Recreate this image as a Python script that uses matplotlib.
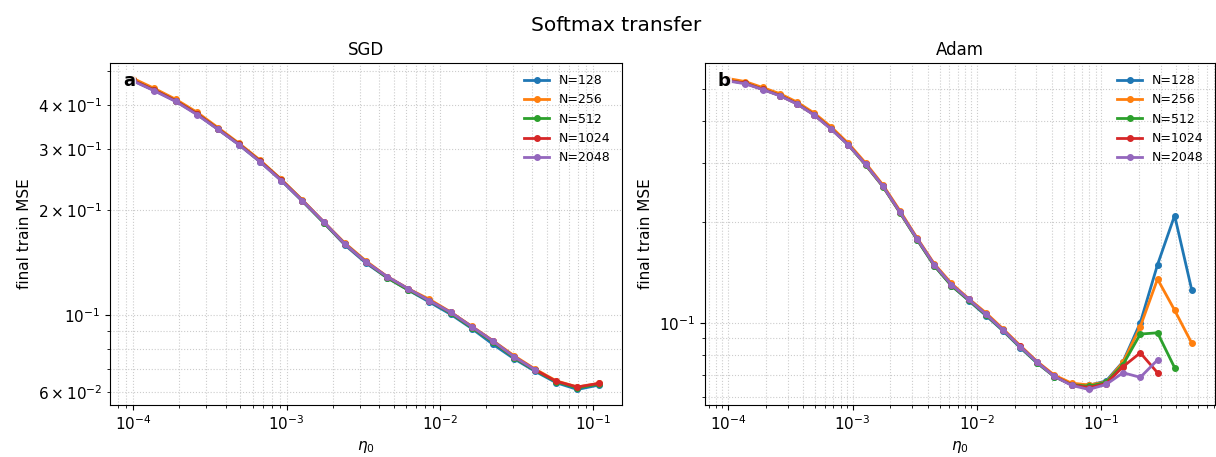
import numpy as np
import matplotlib
matplotlib.use("Agg")
import matplotlib.pyplot as plt

# learning rates: log-spaced sweep starting at 1e-4
lr_sgd = [1.00e-4, 1.37e-4, 1.89e-4, 2.60e-4, 3.57e-4, 4.90e-4, 6.74e-4, 9.26e-4,
          1.27e-3, 1.75e-3, 2.40e-3, 3.30e-3, 4.53e-3, 6.23e-3, 8.56e-3, 1.18e-2,
          1.62e-2, 2.22e-2, 3.05e-2, 4.19e-2, 5.75e-2, 7.91e-2, 1.09e-1]
lr_adam = lr_sgd + [1.49e-1, 2.05e-1, 2.82e-1, 3.87e-1, 5.32e-1]

widths = [128, 256, 512, 1024, 2048]

sgd_128 = [0.470, 0.441, 0.411, 0.377, 0.341, 0.308, 0.275, 0.243, 0.212, 0.184, 0.159,
           0.141, 0.128, 0.118, 0.109, 0.1005, 0.0915, 0.0825, 0.0750, 0.0690, 0.0640,
           0.0612, 0.0630]
sgd_256 = [0.477, 0.447, 0.416, 0.382, 0.345, 0.311, 0.278, 0.245, 0.214, 0.185, 0.161,
           0.143, 0.129, 0.119, 0.111, 0.1020, 0.0928, 0.0845, 0.0765, 0.0700, 0.0648,
           0.0622, 0.0637]
sgd_512 = [0.471, 0.442, 0.412, 0.378, 0.342, 0.309, 0.276, 0.244, 0.213, 0.184, 0.160,
           0.142, 0.128, 0.118, 0.110, 0.1012, 0.0920, 0.0838, 0.0755, 0.0694, 0.0644,
           0.0618, 0.0634]
sgd_1024 = [0.471, 0.442, 0.412, 0.378, 0.342, 0.309, 0.276, 0.244, 0.213, 0.185, 0.160,
            0.142, 0.129, 0.119, 0.110, 0.1018, 0.0926, 0.0843, 0.0760, 0.0697, 0.0646,
            0.0622, 0.0637]
sgd_2048 = [0.469, 0.440, 0.410, 0.376, 0.341, 0.308, 0.275, 0.243, 0.213, 0.185, 0.160,
            0.142, 0.129, 0.119, 0.110, 0.1018, 0.0926, 0.0843, 0.0760, 0.0697]

adam_128 = [0.530, 0.520, 0.499, 0.478, 0.452, 0.419, 0.380, 0.340, 0.297, 0.256, 0.214,
            0.177, 0.148, 0.129, 0.1165, 0.105, 0.0945, 0.0843, 0.0757, 0.0690, 0.0655,
            0.0650, 0.0670, 0.0765, 0.100, 0.149, 0.209, 0.125]
adam_256 = [0.536, 0.525, 0.504, 0.483, 0.456, 0.423, 0.384, 0.343, 0.300, 0.258, 0.216,
            0.179, 0.150, 0.131, 0.118, 0.107, 0.0958, 0.0855, 0.0765, 0.0697, 0.0660,
            0.0652, 0.0665, 0.0762, 0.0973, 0.135, 0.109, 0.0868]
adam_512 = [0.529, 0.519, 0.498, 0.477, 0.451, 0.418, 0.379, 0.339, 0.296, 0.255, 0.213,
            0.177, 0.148, 0.129, 0.1168, 0.1055, 0.0948, 0.0846, 0.0758, 0.0690, 0.0653,
            0.0646, 0.0664, 0.0750, 0.0925, 0.0933, 0.0734]
adam_1024 = [0.529, 0.519, 0.498, 0.477, 0.451, 0.418, 0.379, 0.340, 0.297, 0.256, 0.214,
             0.178, 0.149, 0.130, 0.1175, 0.106, 0.0952, 0.0850, 0.0762, 0.0692, 0.0652,
             0.0640, 0.0658, 0.0739, 0.0813, 0.0709]
adam_2048 = [0.527, 0.517, 0.497, 0.476, 0.450, 0.417, 0.378, 0.339, 0.297, 0.256, 0.214,
             0.178, 0.149, 0.130, 0.1175, 0.106, 0.0951, 0.0849, 0.0761, 0.0691, 0.0650,
             0.0632, 0.0654, 0.0709, 0.0687, 0.0774]

sgd_runs = [sgd_128, sgd_256, sgd_512, sgd_1024, sgd_2048]
adam_runs = [adam_128, adam_256, adam_512, adam_1024, adam_2048]
colors = ["#1f77b4", "#ff7f0e", "#2ca02c", "#d62728", "#9467bd"]

W, H = 1216, 457
fig = plt.figure(figsize=(W / 100, H / 100), dpi=100)
ax_sgd = fig.add_axes([110 / W, 52 / H, 512 / W, 342 / H])
ax_adam = fig.add_axes([705 / W, 52 / H, 510 / W, 342 / H])

panels = [(ax_sgd, "SGD", "a", lr_sgd, sgd_runs),
          (ax_adam, "Adam", "b", lr_adam, adam_runs)]

for ax, title, tag, lrs, runs in panels:
    for n, ys, c in zip(widths, runs, colors):
        ax.plot(lrs[:len(ys)], ys, "-o", color=c, lw=2, ms=4, label="N=%d" % n)
    ax.set_xscale("log")
    ax.set_yscale("log")
    ax.grid(True, which="both", ls=":", color="#cccccc", lw=0.8)
    ax.set_title(title, fontsize=12)
    ax.set_xlabel(r"$\eta_0$", fontsize=11)
    ax.set_ylabel("final train MSE", fontsize=11)
    ax.tick_params(which="both", labelsize=11)
    ax.legend(loc="upper right", frameon=False, fontsize=9)
    ax.text(0.025, 0.975, tag, transform=ax.transAxes, fontsize=13, fontweight="bold",
            va="top", ha="left",
            bbox=dict(facecolor="white", alpha=0.8, edgecolor="none", pad=1))

fig.suptitle("Softmax transfer", fontsize=14.5, x=0.507, y=0.965)
fig.savefig("out.png", dpi=100)
